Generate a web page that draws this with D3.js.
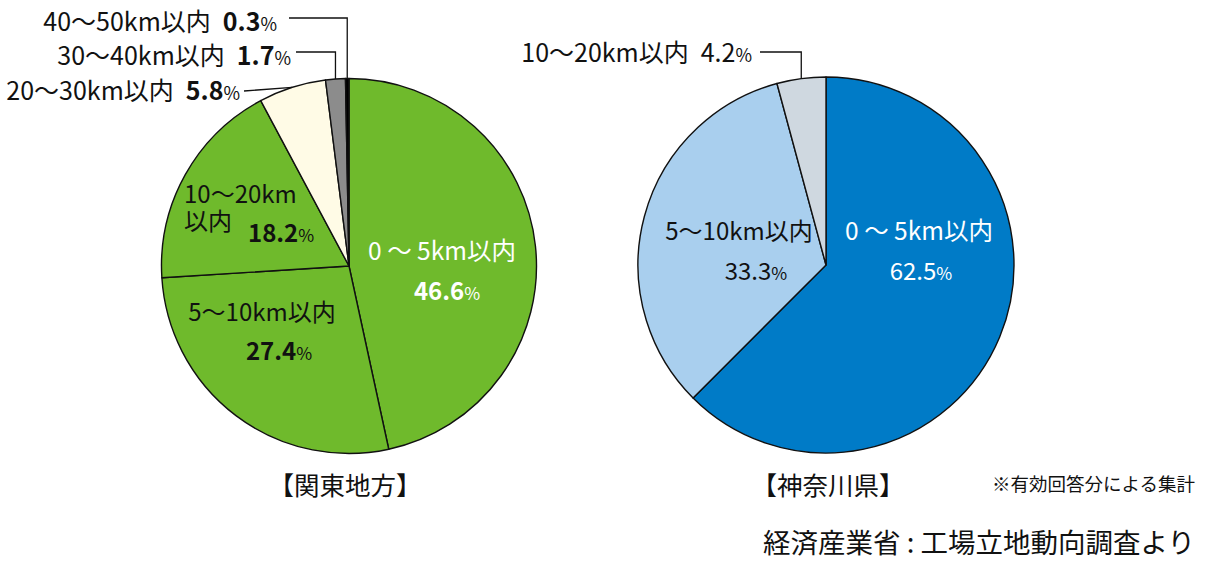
<!DOCTYPE html>
<html>
<head>
<meta charset="utf-8">
<script src="https://cdn.jsdelivr.net/npm/d3@7"></script>
<style>
  body { margin: 0; background: #fff; }
  svg text { font-family: "Noto Sans CJK JP", "Noto Sans", sans-serif; }
</style>
</head>
<body>
<div id="chart"></div>
<script>
// data
var kantoLabels = ["0〜5km以内", "5〜10km以内", "10〜20km以内", "20〜30km以内", "30〜40km以内", "40〜50km以内"];
var kantoValues = [46.6, 27.4, 18.2, 5.8, 1.7, 0.3];
var kantoColors = ["#6fba2c", "#6fba2c", "#6fba2c", "#fffbe6", "#8c8c8c", "#000000"];

var kanagawaLabels = ["0〜5km以内", "5〜10km以内", "10〜20km以内"];
var kanagawaValues = [62.5, 33.3, 4.2];
var kanagawaColors = ["#007bc7", "#a9cfee", "#cfd8e0"];

var W = 1208, H = 562;
var svg = d3.select('#chart').append('svg')
  .attr('width', W).attr('height', H);

var pie = d3.pie().sort(null).value(function(d) { return d; });

function drawPie(cx, cy, r, values, colors) {
  var arcs = pie(values);
  var arc = d3.arc().innerRadius(0).outerRadius(r);
  var g = svg.append('g').attr('transform', 'translate(' + cx + ',' + cy + ')');
  g.selectAll('path').data(arcs).enter().append('path')
    .attr('d', arc)
    .attr('fill', function(d, i) { return colors[i]; })
    .attr('stroke', '#111')
    .attr('stroke-width', 1.4)
    .attr('stroke-linejoin', 'round');
  // point on the rim at the middle of each slice
  return arcs.map(function(d) {
    var a = (d.startAngle + d.endAngle) / 2;
    return [cx + r * Math.sin(a), cy - r * Math.cos(a)];
  });
}

// label with a smaller % sign
function pctText(x, y, label, value, opt) {
  var t = svg.append('text')
    .attr('x', x).attr('y', y)
    .attr('text-anchor', opt.anchor || 'start')
    .attr('fill', opt.fill || '#111')
    .style('font-size', (opt.size || 25) + 'px');
  if (label) t.append('tspan').text(label);
  if (value != null) {
    t.append('tspan').attr('dx', label ? 12 : 0)
      .attr('font-weight', opt.bold ? 700 : 400).text(value.toFixed(1));
    t.append('tspan').style('font-size', '0.72em').text('%');
  }
  return t;
}

function plainText(x, y, s, size, fill, anchor, weight) {
  return svg.append('text').attr('x', x).attr('y', y)
    .attr('text-anchor', anchor || 'start')
    .attr('fill', fill || '#111')
    .attr('font-weight', weight || 400)
    .style('font-size', size + 'px')
    .text(s);
}

function leader(points) {
  svg.append('polyline')
    .attr('points', points.map(function(p) { return p.join(','); }).join(' '))
    .attr('fill', 'none').attr('stroke', '#111').attr('stroke-width', 1.3);
}

// ---- 関東地方 ----
var kRim = drawPie(349, 266, 187.5, kantoValues, kantoColors);

plainText(442, 260, kantoLabels[0].replace('〜', ' 〜 '), 24.5, '#fff', 'middle');
pctText(447, 300, null, kantoValues[0], {anchor: 'middle', fill: '#fff', bold: true, size: 24});

plainText(262, 321, kantoLabels[1], 24, '#111', 'middle');
pctText(279, 360, null, kantoValues[1], {anchor: 'middle', bold: true, size: 24});

// 10〜20km / 以内 wrapped on two lines
var wrap = plainText(184, 203, '', 24);
wrap.append('tspan').attr('x', 184).text(kantoLabels[2].replace('以内', ''));
wrap.append('tspan').attr('x', 184).attr('dy', 27).text('以内');
pctText(248, 242, null, kantoValues[2], {bold: true, size: 24});

pctText(240, 100, kantoLabels[3], kantoValues[3], {anchor: 'end', bold: true});
pctText(291, 65, kantoLabels[4], kantoValues[4], {anchor: 'end', bold: true});
pctText(277, 31, kantoLabels[5], kantoValues[5], {anchor: 'end', bold: true});

leader([[244, 91], kRim[3]]);
leader([[296, 52], [kRim[4][0], 52], kRim[4]]);
leader([[289, 18], [kRim[5][0], 18], kRim[5]]);

// ---- 神奈川県 ----
var gRim = drawPie(826, 265, 188, kanagawaValues, kanagawaColors);

plainText(919, 240, kanagawaLabels[0].replace('〜', ' 〜 '), 24.5, '#fff', 'middle');
pctText(921, 280, null, kanagawaValues[0], {anchor: 'middle', fill: '#fff', size: 24});

plainText(739, 240, kanagawaLabels[1], 24, '#111', 'middle');
pctText(756, 280, null, kanagawaValues[1], {anchor: 'middle', size: 24});

pctText(752, 62, kanagawaLabels[2], kanagawaValues[2], {anchor: 'end'});
leader([[760, 52], [gRim[2][0], 52], gRim[2]]);

// ---- titles / notes ----
plainText(345, 495, '【関東地方】', 25.5, '#111', 'middle');
plainText(828, 495, '【神奈川県】', 25.5, '#111', 'middle');
plainText(1195, 491, '※有効回答分による集計', 18.5, '#111', 'end');
plainText(1195, 553, '経済産業省 : 工場立地動向調査より', 27.5, '#111', 'end');
</script>
</body>
</html>
